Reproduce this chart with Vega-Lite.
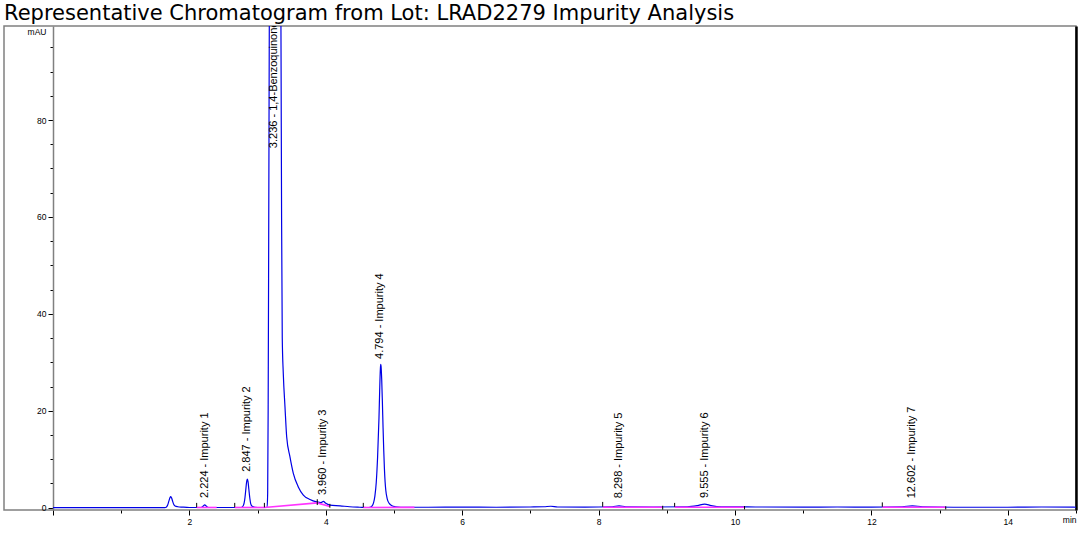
{
  "$schema": "https://vega.github.io/schema/vega-lite/v6.json",
  "width": 1072,
  "height": 484,
  "autosize": {"type": "none"},
  "padding": {"left": 4, "top": 26, "right": 9, "bottom": 24},
  "background": "white",
  "title": {
    "text": "Representative Chromatogram from Lot: LRAD2279 Impurity Analysis",
    "anchor": "start",
    "frame": "group",
    "font": "DejaVu Sans",
    "fontSize": 21,
    "fontWeight": "normal",
    "color": "black",
    "offset": 5,
    "dy": 20,
    "baseline": "alphabetic"
  },
  "config": {"view": {"stroke": "#808080", "strokeWidth": 1.5}},
  "datasets": {
    "trace": [
      {"t": 0, "v": 0}, {"t": 1.6, "v": 0}, {"t": 1.64, "v": 0.02}, {"t": 1.66, "v": 0.1},
      {"t": 1.68, "v": 0.5}, {"t": 1.7, "v": 1.4}, {"t": 1.715, "v": 2.05}, {"t": 1.728, "v": 2.27},
      {"t": 1.74, "v": 2.0}, {"t": 1.755, "v": 1.3}, {"t": 1.77, "v": 0.7}, {"t": 1.79, "v": 0.35},
      {"t": 1.83, "v": 0.2}, {"t": 1.9, "v": 0.12}, {"t": 2.0, "v": 0.05}, {"t": 2.17, "v": 0.05},
      {"t": 2.2, "v": 0.3}, {"t": 2.225, "v": 0.6}, {"t": 2.25, "v": 0.3}, {"t": 2.28, "v": 0.05},
      {"t": 2.76, "v": 0.05}, {"t": 2.79, "v": 0.4}, {"t": 2.81, "v": 1.5}, {"t": 2.825, "v": 3.4},
      {"t": 2.838, "v": 5.2}, {"t": 2.85, "v": 5.9}, {"t": 2.86, "v": 5.4}, {"t": 2.872, "v": 3.8},
      {"t": 2.887, "v": 1.9}, {"t": 2.9, "v": 0.8}, {"t": 2.92, "v": 0.3}, {"t": 2.96, "v": 0.1},
      {"t": 3.05, "v": 0.05}, {"t": 3.14, "v": 0.1}, {"t": 3.148, "v": 3}, {"t": 3.155, "v": 20},
      {"t": 3.163, "v": 55}, {"t": 3.172, "v": 100}, {"t": 3.19, "v": 180}, {"t": 3.236, "v": 300},
      {"t": 3.28, "v": 280}, {"t": 3.31, "v": 210}, {"t": 3.335, "v": 130}, {"t": 3.345, "v": 90},
      {"t": 3.352, "v": 60}, {"t": 3.362, "v": 35}, {"t": 3.377, "v": 27.7}, {"t": 3.402, "v": 20.8},
      {"t": 3.427, "v": 14.6}, {"t": 3.475, "v": 10.5}, {"t": 3.524, "v": 7.1}, {"t": 3.597, "v": 4.3},
      {"t": 3.671, "v": 2.6}, {"t": 3.768, "v": 1.7}, {"t": 3.866, "v": 1.2}, {"t": 3.93, "v": 1.05},
      {"t": 3.965, "v": 1.3}, {"t": 4.0, "v": 0.9}, {"t": 4.06, "v": 0.55}, {"t": 4.21, "v": 0.4},
      {"t": 4.35, "v": 0.2}, {"t": 4.5, "v": 0.1}, {"t": 4.6, "v": 0.05}, {"t": 4.65, "v": 0.1},
      {"t": 4.68, "v": 0.4}, {"t": 4.7, "v": 1.0}, {"t": 4.72, "v": 2.4}, {"t": 4.74, "v": 5.2},
      {"t": 4.76, "v": 10.5}, {"t": 4.78, "v": 18.5}, {"t": 4.79, "v": 24}, {"t": 4.8, "v": 28.5},
      {"t": 4.805, "v": 29.6}, {"t": 4.81, "v": 29.3}, {"t": 4.82, "v": 26.5}, {"t": 4.83, "v": 21.8},
      {"t": 4.84, "v": 16.5}, {"t": 4.85, "v": 11.8}, {"t": 4.86, "v": 8.0}, {"t": 4.87, "v": 5.3},
      {"t": 4.88, "v": 3.6}, {"t": 4.9, "v": 1.9}, {"t": 4.93, "v": 0.9}, {"t": 4.97, "v": 0.4},
      {"t": 5.02, "v": 0.2}, {"t": 5.1, "v": 0.1}, {"t": 5.5, "v": 0.1}, {"t": 6.0, "v": 0.12},
      {"t": 6.5, "v": 0.1}, {"t": 7.0, "v": 0.15}, {"t": 7.2, "v": 0.2}, {"t": 7.3, "v": 0.3},
      {"t": 7.4, "v": 0.15}, {"t": 7.8, "v": 0.12}, {"t": 8.2, "v": 0.2}, {"t": 8.3, "v": 0.4},
      {"t": 8.4, "v": 0.2}, {"t": 8.8, "v": 0.15}, {"t": 9.3, "v": 0.2}, {"t": 9.45, "v": 0.45},
      {"t": 9.555, "v": 0.75}, {"t": 9.65, "v": 0.45}, {"t": 9.8, "v": 0.2}, {"t": 10.3, "v": 0.15},
      {"t": 11.0, "v": 0.12}, {"t": 11.5, "v": 0.15}, {"t": 12.0, "v": 0.12}, {"t": 12.45, "v": 0.2},
      {"t": 12.6, "v": 0.4}, {"t": 12.75, "v": 0.2}, {"t": 13.2, "v": 0.1}, {"t": 14.0, "v": 0.1},
      {"t": 14.5, "v": 0.15}, {"t": 15.0, "v": 0.1}
    ],
    "baselines": [
      {"seg": "A", "t": 2.107, "v": 0.05}, {"seg": "A", "t": 2.4, "v": 0.05},
      {"seg": "B", "t": 2.665, "v": 0.05}, {"seg": "B", "t": 3.1, "v": 0.05},
      {"seg": "C", "t": 3.1, "v": 0.05}, {"seg": "C", "t": 3.875, "v": 1.0},
      {"seg": "D", "t": 3.875, "v": 1.0}, {"seg": "D", "t": 4.06, "v": 0.25},
      {"seg": "E", "t": 4.55, "v": 0.05}, {"seg": "E", "t": 5.3, "v": 0.08},
      {"seg": "F", "t": 8.06, "v": 0.1}, {"seg": "F", "t": 8.94, "v": 0.1},
      {"seg": "G", "t": 9.115, "v": 0.1}, {"seg": "G", "t": 10.14, "v": 0.1},
      {"seg": "H", "t": 12.16, "v": 0.1}, {"seg": "H", "t": 13.09, "v": 0.1}
    ],
    "marks": [
      {"t": 2.107, "lo": 0.1, "hi": 1.0}, {"t": 2.665, "lo": 0.1, "hi": 1.0},
      {"t": 3.1, "lo": 0.1, "hi": 1.0}, {"t": 3.875, "lo": 0.55, "hi": 1.75},
      {"t": 4.06, "lo": 0.0, "hi": 0.8}, {"t": 4.55, "lo": 0.1, "hi": 1.0},
      {"t": 8.06, "lo": 0.2, "hi": 1.2}, {"t": 8.94, "lo": -0.4, "hi": 0.4},
      {"t": 9.115, "lo": 0.2, "hi": 1.0}, {"t": 10.14, "lo": -0.35, "hi": 0.35},
      {"t": 12.16, "lo": 0.2, "hi": 1.1}, {"t": 13.09, "lo": -0.35, "hi": 0.3}
    ],
    "labels": [
      {"t": 2.224, "v": 2.0, "label": "2.224 - Impurity 1"},
      {"t": 2.847, "v": 7.4, "label": "2.847 - Impurity 2"},
      {"t": 3.236, "v": 74.2, "label": "3.236 - 1,4-Benzoquinone"},
      {"t": 3.96, "v": 2.6, "label": "3.960 - Impurity 3"},
      {"t": 4.794, "v": 30.7, "label": "4.794 - Impurity 4"},
      {"t": 8.298, "v": 1.95, "label": "8.298 - Impurity 5"},
      {"t": 9.555, "v": 2.0, "label": "9.555 - Impurity 6"},
      {"t": 12.602, "v": 1.95, "label": "12.602 - Impurity 7"}
    ]
  },
  "encoding": {
    "x": {
      "field": "t",
      "type": "quantitative",
      "scale": {"domain": [-0.718, 15], "nice": false, "zero": false},
      "axis": {
        "title": null,
        "grid": false,
        "domain": false,
        "values": [0, 0.5, 1, 1.5, 2, 2.5, 3, 3.5, 4, 4.5, 5, 5.5, 6, 6.5, 7, 7.5, 8, 8.5, 9, 9.5, 10, 10.5, 11, 11.5, 12, 12.5, 13, 13.5, 14, 14.5, 15],
        "format": "d",
        "labelExpr": "datum.value === 15 ? 'min' : (datum.value > 0 && datum.value % 2 === 0 ? datum.label : '')",
        "labelFlush": true,
        "labelOverlap": false,
        "labelFont": "Liberation Sans",
        "labelFontSize": 8.5,
        "labelColor": "black",
        "labelPadding": 2,
        "tickColor": "black",
        "tickSize": {"condition": {"test": "datum.value % 2 === 0", "value": 5}, "value": 3}
      }
    }
  },
  "layer": [
    {
      "data": {"name": "trace"},
      "mark": {"type": "line", "color": "#0000e6", "strokeWidth": 1.2, "clip": true, "interpolate": "monotone"},
      "encoding": {
        "y": {
          "field": "v",
          "type": "quantitative",
          "scale": {"domain": [-0.47, 99.4], "nice": false, "zero": false},
          "axis": {
            "orient": "left",
            "offset": -49,
            "grid": false,
            "values": [0, 5, 10, 15, 20, 25, 30, 35, 40, 45, 50, 55, 60, 65, 70, 75, 80, 85, 90, 95],
            "labelExpr": "datum.value % 20 === 0 ? datum.label : ''",
            "labelFont": "Liberation Sans",
            "labelFontSize": 8.5,
            "labelColor": "black",
            "labelPadding": 2,
            "labelOverlap": false,
            "domainColor": "#808080",
            "domainWidth": 1.5,
            "tickColor": "black",
            "tickSize": {"condition": {"test": "datum.value % 20 === 0", "value": 5}, "value": 3},
            "title": "mAU",
            "titleAngle": 0,
            "titleAlign": "right",
            "titleBaseline": "top",
            "titleX": -7,
            "titleY": 1,
            "titleFont": "Liberation Sans",
            "titleFontSize": 8.5,
            "titleFontWeight": "normal",
            "titleColor": "black"
          }
        }
      }
    },
    {
      "data": {"name": "baselines"},
      "mark": {"type": "line", "color": "#ff33ff", "strokeWidth": 1.6, "clip": true},
      "encoding": {
        "y": {
          "field": "v",
          "type": "quantitative",
          "scale": {"domain": [-0.47, 99.4], "nice": false, "zero": false},
          "axis": {
            "orient": "right",
            "domainColor": "black",
            "domainWidth": 2.5,
            "ticks": false,
            "labels": false,
            "grid": false,
            "title": null
          }
        },
        "detail": {"field": "seg", "type": "nominal"}
      }
    },
    {
      "data": {"name": "marks"},
      "mark": {"type": "rule", "color": "black", "strokeWidth": 1},
      "encoding": {
        "y": {"field": "lo", "type": "quantitative", "scale": {"domain": [-0.47, 99.4], "nice": false, "zero": false}, "axis": null},
        "y2": {"field": "hi"}
      }
    },
    {
      "data": {"name": "labels"},
      "mark": {"type": "text", "angle": 270, "align": "left", "baseline": "middle", "font": "Liberation Sans", "fontSize": 11, "color": "black", "clip": true},
      "encoding": {
        "y": {"field": "v", "type": "quantitative", "scale": {"domain": [-0.47, 99.4], "nice": false, "zero": false}, "axis": null},
        "text": {"field": "label", "type": "nominal"}
      }
    }
  ],
  "resolve": {"axis": {"y": "independent"}}
}
